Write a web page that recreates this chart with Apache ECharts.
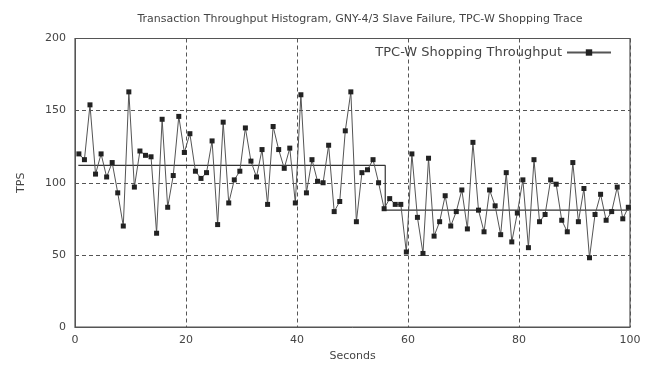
<!DOCTYPE html>
<html><head><meta charset="utf-8">
<script src="https://cdn.jsdelivr.net/npm/echarts@6/dist/echarts.min.js"></script>
<style>html,body{margin:0;padding:0;background:#fff}#c{width:653px;height:367px}</style>
</head><body><div id="c"></div>
<script>
const throughput = [120,116,154,106,120,104,114,93,70,163,97,122,119,118,65,144,83,105,146,121,
134,108,103,107,129,71,142,86,102,108,138,115,104,123,85,139,123,110,124,86,
161,93,116,101,100,126,80,87,136,163,73,107,109,116,100,82,89,85,85,52,
120,76,51,117,63,73,91,70,80,95,68,128,81,66,95,84,64,107,59,79,
102,55,116,73,78,102,99,74,66,114,73,96,48,78,92,74,80,97,75,83];
const sampleOffset = 0.7;
const meanPoints = [[0.6,112],[55.9,112],[55.9,81],[99.9,81]];
const xTicks = [0,20,40,60,80,100];
const yTicks = [0,50,100,150,200];

const seriesData = throughput.map((v,i)=>[i+sampleOffset, v]);
const chart = echarts.init(document.getElementById('c'));
const ff = 'DejaVu Sans, sans-serif';
chart.setOption({
  animation:false,
  backgroundColor:'#fff',
  title:{text:'Transaction Throughput Histogram, GNY-4/3 Slave Failure, TPC-W Shopping Trace',
    left:355, top:9, textAlign:'center',
    textStyle:{fontFamily:ff,fontSize:11,fontWeight:'normal',color:'#444'}},
  legend:{data:['TPC-W Shopping Throughput'], right:36, top:41, align:'right',
    itemWidth:44, itemHeight:8, itemGap:6,
    textStyle:{fontFamily:ff,fontSize:13,color:'#444'}},
  grid:{left:75,right:23,top:38.5,bottom:39.5,show:true,borderColor:'#555',borderWidth:1.2},
  xAxis:{type:'value',min:0,max:100,interval:20,
    name:'Seconds',nameLocation:'middle',nameGap:24,
    nameTextStyle:{fontFamily:ff,fontSize:11,color:'#444'},
    axisLine:{show:true,lineStyle:{color:'#555'}},
    axisTick:{show:false},
    axisLabel:{fontFamily:ff,fontSize:11,color:'#444',margin:8},
    splitLine:{show:true,lineStyle:{color:'#555',type:[4,3],width:1}}},
  yAxis:{type:'value',min:0,max:200,interval:50,
    name:'TPS',nameLocation:'middle',nameGap:48,nameRotate:90,
    nameTextStyle:{fontFamily:ff,fontSize:11,color:'#444'},
    axisLine:{show:true,lineStyle:{color:'#555'}},
    axisTick:{show:false},
    axisLabel:{fontFamily:ff,fontSize:11,color:'#444',margin:9},
    splitLine:{show:true,lineStyle:{color:'#555',type:[4,3],width:1}}},
  series:[
    {name:'mean',type:'line',data:meanPoints,symbol:'none',silent:true,
      lineStyle:{color:'#333',width:1.2},z:1},
    {name:'TPC-W Shopping Throughput',type:'line',data:seriesData,
      symbol:'rect',symbolSize:5,
      itemStyle:{color:'#222'},
      lineStyle:{color:'#555',width:1},z:3}
  ]
});
</script></body></html>
